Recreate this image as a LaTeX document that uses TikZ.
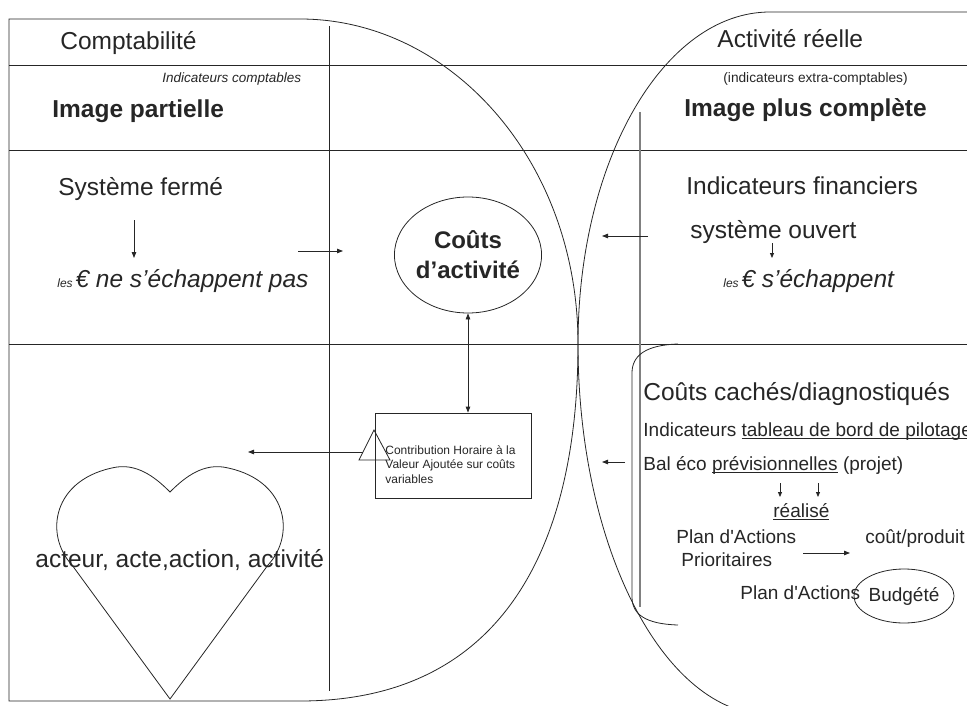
\documentclass[tikz,border=0pt]{standalone}
\usepackage{fontspec}
\setmainfont{Liberation Sans}[Ligatures=TeXOff]
\usetikzlibrary{arrows.meta,shapes.geometric}
\newcommand\fsz[1]{\fontsize{#1bp}{#1bp}\selectfont}
\newsavebox\myulbox
\newcommand\myul[1]{\sbox\myulbox{#1}\rlap{\rule[-2.6bp]{\wd\myulbox}{0.9bp}}\usebox\myulbox}
\begin{document}
\begin{tikzpicture}[x=1bp,y=-1bp,line width=0.8bp,
  txt/.style={anchor=base west,inner sep=0pt,text=black!85},
  big/.style={txt,font=\fsz{24.5}},
  mid/.style={txt,font=\fsz{19}},
  tip/.style={-{Triangle[length=6bp,width=4.5bp]}},
  smalltip/.style={-{Triangle[length=5bp,width=4bp]}},
  line/.style={draw=black!85}]
\useasboundingbox (0,0) rectangle (967,706);
\clip (0,0) rectangle (967,706);
% left shape (Comptabilite)
\draw[line] (9,19) -- (300,19) .. controls (450,19) and (578,160) .. (578,344)
  .. controls (578,550) and (500,701) .. (300,701) -- (9,701) -- cycle;
% right shape (Activite reelle)
\draw[line] (967,12) -- (770,12) .. controls (664,12) and (578,160) .. (578,344)
  .. controls (578,548) and (664,715) .. (770,715);
% grid lines
\draw[line] (9,65) -- (967,65);
\draw[line] (9,150) -- (967,150);
\draw[line] (9,344) -- (967,344);
\draw[line] (329,26) -- (329,691);
\draw[gray,line width=1.8bp] (640,112) -- (640,607);
% bracket
\draw[line] (678,344) .. controls (645,345) and (632,356) .. (632,373) -- (632,597)
  .. controls (632,614) and (645,624) .. (678,625);
% heart
\draw[line] (170,699) -- (72,565) .. controls (44,535) and (52,478) .. (117,467)
  .. controls (140,464) and (158,480) .. (170,492)
  .. controls (182,480) and (200,464) .. (223,467)
  .. controls (288,478) and (296,535) .. (268,565) -- cycle;

% left column texts
\node[big] (comp) at (60,50) {Comptabilité};
\node[txt,font=\fsz{13.5}\itshape] (indcomp) at (162,83) {Indicateurs comptables};
\node[big,font=\fsz{24.5}\bfseries] (imgp) at (52,118) {Image partielle};
\node[big] (sysf) at (58,195) {Système fermé};
\node[txt,font=\itshape] (lesA) at (57,287) {{\fsz{12}les} {\fsz{24.5}€ ne s’échappent pas}};
\node[big] (acteur) at (35,567) {acteur, acte,action, activité};

% centre
\node[draw=black!85,ellipse,minimum width=141bp,minimum height=116bp,inner sep=0pt,
  align=center,text=black!85,font=\fontsize{24bp}{30bp}\selectfont\bfseries] (cout) at (468,255) {Coûts\\d’activité};
\node[draw=black!85,minimum width=156bp,minimum height=85bp,inner sep=0pt] (rect) at (453,455.5) {};
\node[anchor=north west,inner sep=0pt,align=left,text=black!85,
  font=\fontsize{12bp}{14.5bp}\selectfont] (contrib) at (385,445)
  {Contribution Horaire à la\\Valeur Ajoutée sur coûts\\variables};
\draw[line] (374,430) -- (390,460) -- (359,460) -- cycle;
\coordinate (triL) at (363,452);
\coordinate (heartArr) at (248,452);

% right column texts
\node[big] (act) at (717,48) {Activité réelle};
\node[txt,font=\fsz{13.7}] (indx) at (723,83) {(indicateurs extra-comptables)};
\node[big,font=\fsz{24.5}\bfseries] (imgc) at (684,117) {Image plus complète};
\node[big] (indf) at (686,194) {Indicateurs financiers};
\node[big] (syso) at (690,238) {système ouvert};
\node[txt,font=\itshape] (lesB) at (723,287) {{\fsz{12}les} {\fsz{24.5}€ s’échappent}};
\node[big] (cc) at (643,400) {Coûts cachés/diagnostiqués};
\node[mid] (tb) at (643,436) {Indicateurs \myul{tableau de bord de pilotage}};
\node[mid] (bal) at (643,470) {Bal éco \myul{prévisionnelles} (projet)};
\node[mid] (real) at (773,517) {\myul{réalisé}};
\node[mid] (pa1) at (676,543) {Plan d'Actions};
\node[mid] (pa2) at (681,566) {Prioritaires};
\node[mid] (cp) at (865,543) {coût/produit};
\node[mid] (pa3) at (740,599) {Plan d'Actions};
\node[draw=black!85,ellipse,minimum width=76bp,minimum height=54bp,inner sep=0pt,
  text=black!85,font=\fsz{19}] (budg) at (904,596) {Budgété};

% arrow coordinates
\coordinate (a1s) at (134,220); \coordinate (a1e) at (134,258);
\coordinate (a2s) at (298,251); \coordinate (a2e) at (343,251);
\coordinate (a3s) at (648,236); \coordinate (a3e) at (602,236);
\coordinate (a4s) at (772,243); \coordinate (a4e) at (772,258);
\coordinate (a5s) at (625,462); \coordinate (a5e) at (602,462);
\coordinate (a6s) at (780,483); \coordinate (a6e) at (780,497);
\coordinate (a7s) at (818,483); \coordinate (a7e) at (818,497);
\coordinate (a8s) at (803,553); \coordinate (a8e) at (850,553);

\draw[line,tip] (a1s) -- (a1e);
\draw[line,tip] (a2s) -- (a2e);
\draw[line,tip] (a3s) -- (a3e);
\draw[line,smalltip] (a4s) -- (a4e);
\draw[line,tip] (a5s) -- (a5e);
\draw[line,smalltip] (a6s) -- (a6e);
\draw[line,smalltip] (a7s) -- (a7e);
\draw[line,tip] (a8s) -- (a8e);
\draw[line,tip] (triL) -- (heartArr);
\draw[line,{Triangle[length=6bp,width=4.5bp]}-{Triangle[length=6bp,width=4.5bp]}]
  (cout.south) -- (cout.south |- rect.north);
\end{tikzpicture}
\end{document}
